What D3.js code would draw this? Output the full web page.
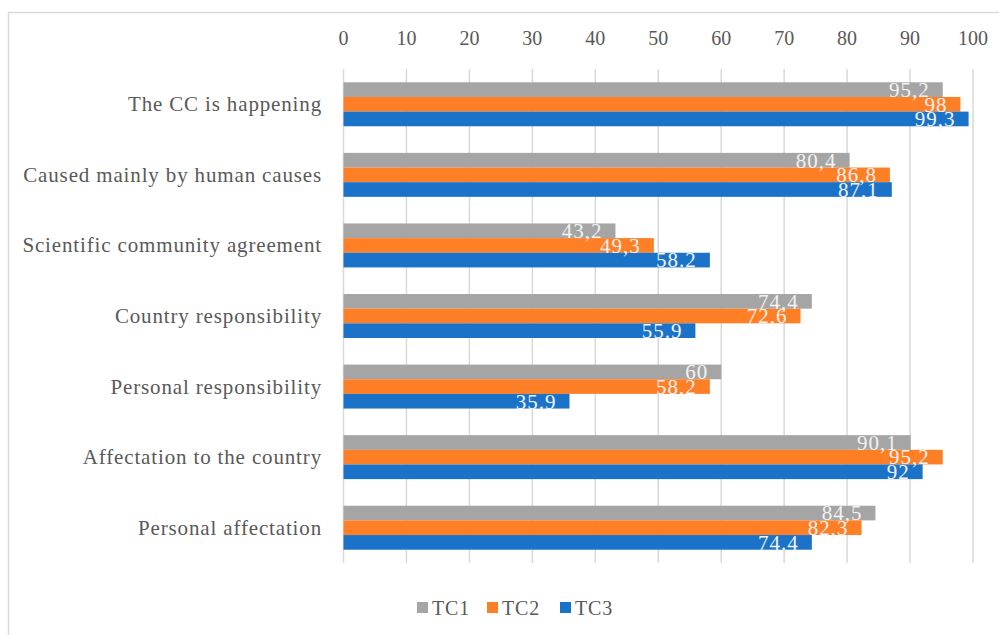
<!DOCTYPE html>
<html>
<head>
<meta charset="utf-8">
<script src="https://cdn.jsdelivr.net/npm/d3@7"></script>
<style>
  body { margin: 0; background: #fff; }
  svg text { font-family: "Liberation Serif", serif; }
</style>
</head>
<body>
<div id="chart"></div>
<script>
// categories, top to bottom
const categories = [
    "The CC is happening",
    "Caused mainly by human causes",
    "Scientific community agreement",
    "Country responsibility",
    "Personal responsibility",
    "Affectation to the country",
    "Personal affectation"
];
const seriesNames = ["TC1", "TC2", "TC3"];
const tc1 = [95.2, 80.4, 43.2, 74.4, 60, 90.1, 84.5];
const tc2 = [98, 86.8, 49.3, 72.6, 58.2, 95.2, 82.3];
const tc3 = [99.3, 87.1, 58.2, 55.9, 35.9, 92, 74.4];
// labels as printed on the bars
const tc1Labels = ["95,2", "80,4", "43,2", "74,4", "60", "90,1", "84,5"];
const tc2Labels = ["98", "86,8", "49,3", "72,6", "58,2", "95,2", "82,3"];
const tc3Labels = ["99,3", "87,1", "58.2", "55.9", "35.9", "92", "74.4"];
const xTicks = [0, 10, 20, 30, 40, 50, 60, 70, 80, 90, 100];

const colors = { TC1: "#A5A5A5", TC2: "#FF7F27", TC3: "#1A73C8" };

const width = 999;
const height = 635;

const svg = d3.select("#chart")
    .append("svg")
    .attr("width", width)
    .attr("height", height);

// outer chart border
svg.append("rect")
    .attr("x", 8.5)
    .attr("y", 12.5)
    .attr("width", 1200)
    .attr("height", 800)
    .attr("fill", "none")
    .attr("stroke", "#d9d9d9")
    .attr("stroke-width", 1.5);

const x = d3.scaleLinear().domain([0, 100]).range([343.5, 973]);

const y = d3.scaleBand()
    .domain(categories)
    .range([69, 563])
    .paddingInner(0.377)
    .paddingOuter(0.1885);

const ySub = d3.scaleBand()
    .domain(seriesNames)
    .range([0, y.bandwidth()]);

// gridlines
svg.append("g")
    .selectAll("line")
    .data(xTicks)
    .enter().append("line")
    .attr("x1", d => x(d))
    .attr("x2", d => x(d))
    .attr("y1", 69)
    .attr("y2", 563)
    .attr("stroke", "#d9d9d9")
    .attr("stroke-width", 1.5);

// tick labels on top
svg.append("g")
    .selectAll("text")
    .data(xTicks)
    .enter().append("text")
    .attr("x", d => x(d))
    .attr("y", 45)
    .attr("text-anchor", "middle")
    .attr("font-size", "20px")
    .attr("fill", "#595959")
    .text(d => d);

// category labels
svg.append("g")
    .selectAll("text")
    .data(categories)
    .enter().append("text")
    .attr("x", 322)
    .attr("y", d => y(d) + y.bandwidth() / 2)
    .attr("dy", "0.33em")
    .attr("text-anchor", "end")
    .attr("font-size", "21px")
    .attr("letter-spacing", "0.85px")
    .attr("fill", "#595959")
    .text(d => d);

// build rows for bars
const rows = [];
categories.forEach((c, i) => {
    rows.push({ cat: c, s: "TC1", v: tc1[i], label: tc1Labels[i] });
    rows.push({ cat: c, s: "TC2", v: tc2[i], label: tc2Labels[i] });
    rows.push({ cat: c, s: "TC3", v: tc3[i], label: tc3Labels[i] });
});

svg.append("g")
    .selectAll("rect")
    .data(rows)
    .enter().append("rect")
    .attr("x", x(0))
    .attr("y", d => y(d.cat) + ySub(d.s))
    .attr("width", d => x(d.v) - x(0))
    .attr("height", ySub.bandwidth())
    .attr("fill", d => colors[d.s]);

// value labels, inside end of bars
svg.append("g")
    .selectAll("text")
    .data(rows)
    .enter().append("text")
    .attr("x", d => x(d.v) - 13)
    .attr("y", d => y(d.cat) + ySub(d.s) + ySub.bandwidth())
    .attr("text-anchor", "end")
    .attr("font-size", "21px")
    .attr("letter-spacing", "1px")
    .attr("fill", "#f2f2f2")
    .text(d => d.label);

// legend
const legendX = [417, 487, 560];
const legend = svg.append("g")
    .selectAll("g")
    .data(seriesNames)
    .enter().append("g")
    .attr("transform", (d, i) => `translate(${legendX[i]},602)`);

legend.append("rect")
    .attr("width", 11)
    .attr("height", 11)
    .attr("fill", d => colors[d]);

legend.append("text")
    .attr("x", 15)
    .attr("y", 13)
    .attr("font-size", "20px")
    .attr("letter-spacing", "0.8px")
    .attr("fill", "#595959")
    .text(d => d);
</script>
</body>
</html>
